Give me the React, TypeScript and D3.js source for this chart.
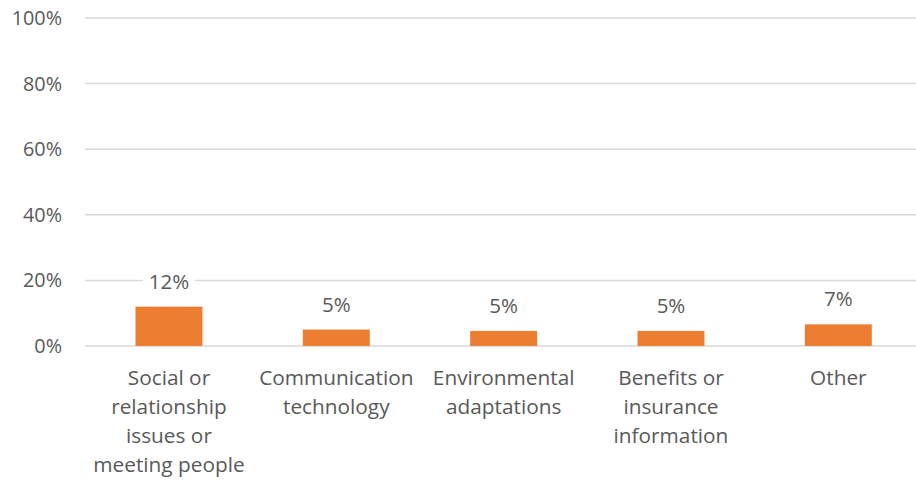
import React from "react";
import * as d3 from "d3";

const categories = [
  "Social or relationship issues or meeting people",
  "Communication technology",
  "Environmental adaptations",
  "Benefits or insurance information",
  "Other",
];
const categoryLines = [
  ["Social or", "relationship", "issues or", "meeting people"],
  ["Communication", "technology"],
  ["Environmental", "adaptations"],
  ["Benefits or", "insurance", "information"],
  ["Other"],
];
const values = [0.12, 0.05, 0.046, 0.046, 0.066];
const valueLabels = ["12%", "5%", "5%", "5%", "7%"];
const yTicks = [0, 0.2, 0.4, 0.6, 0.8, 1.0];

const W = 916;
const H = 482;
const FONT = "'Open Sans', 'Segoe UI', sans-serif";
const TEXT = "#595959";

export default function App() {
  const x = d3.scaleBand<string>().domain(categories).range([85.3, 922]).paddingInner(0.6).paddingOuter(0.3);
  const y = d3.scaleLinear().domain([0, 1]).range([346, 18]);
  const fmt = d3.format(".0%");
  return (
    <svg width={W} height={H} style={{ position: "absolute", left: 0, top: 0, background: "#fff" }}>
      <rect x={0} y={0} width={W} height={H} fill="#fff" />
      {yTicks.map((t) => (
        <g key={t}>
          <line x1={85} x2={W} y1={y(t)} y2={y(t)} stroke="#d9d9d9" strokeWidth={1.5} />
          <text x={62} y={y(t)} dy="0.35em" textAnchor="end" fontFamily={FONT} fontSize={19.8} fill={TEXT}>
            {fmt(t)}
          </text>
        </g>
      ))}
      {categories.map((c, i) => {
        const bx = x(c)!;
        const bw = x.bandwidth();
        const cx = bx + bw / 2;
        const top = y(values[i]);
        const lw = valueLabels[i].length * 12 + 16;
        return (
          <g key={c}>
            <rect x={bx} y={top} width={bw} height={y(0) - top} fill="#ED7D31" />
            <rect x={cx - lw / 2} y={top - 37} width={lw} height={27} fill="#fff" />
            <text x={cx} y={top - 18} textAnchor="middle" fontFamily={FONT} fontSize={20.5} fill={TEXT}>
              {valueLabels[i]}
            </text>
            {categoryLines[i].map((ln, j) => (
              <text key={j} x={cx} y={385 + j * 29} textAnchor="middle" fontFamily={FONT} fontSize={20.8} fill={TEXT}>
                {ln}
              </text>
            ))}
          </g>
        );
      })}
    </svg>
  );
}
